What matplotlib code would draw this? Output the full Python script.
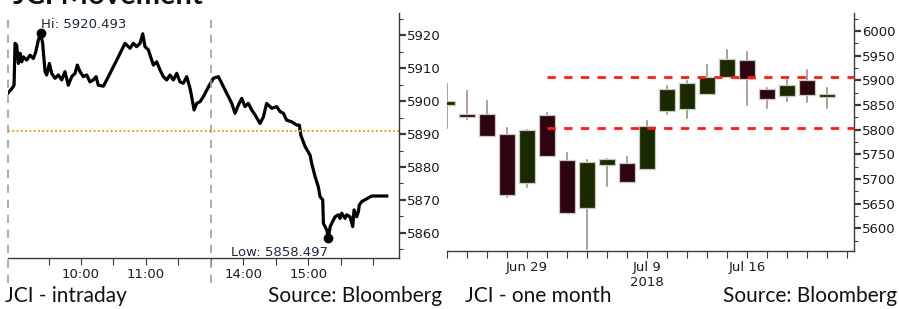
import numpy as np
import matplotlib.pyplot as plt
from matplotlib.patches import Rectangle

# intraday: x = trading minutes after 09:00 (lunch break 12:00-13:30 collapsed)
intra_min = [-7.1, -3.1, -1.8, -0.9, 0.6, 2.2, 3.7, 5.2, 6.8, 9.8, 12.9, 16.0, 18.2, 20.6, 22.8,
             24.6, 26.8, 28.3, 30.8, 32.9, 36.0, 39.1, 42.2, 45.2, 48.3, 51.4, 54.5, 56.6, 59.1,
             62.2, 65.3, 68.3, 71.4, 73.9, 76.0, 80.6, 83.7, 86.8, 94.5, 100.6, 105.3, 108.3,
             111.4, 114.5, 117.0, 119.1, 122.2, 126.8, 129.9, 133.0, 136.0, 139.1, 142.2, 145.3,
             148.4, 151.4, 154.5, 157.6, 160.7, 162.2, 164.4, 166.8, 169.9, 172.9, 176.1, 178.5,
             182.2, 186.8, 189.9, 194.6, 199.2, 202.2, 205.3, 208.4, 211.4, 214.5, 217.6, 220.7,
             225.3, 228.4, 231.4, 236.1, 240.7, 243.8, 246.8, 249.9, 254.6, 259.2, 261.6, 262.9,
             266.9, 271.5, 273.0, 276.1, 279.1, 280.7, 283.2, 283.8, 286.9, 288.4, 290.0, 293.0,
             294.6, 297.6, 299.2, 300.7, 303.8, 305.3, 308.4, 310.9, 312.1, 314.6, 316.1, 317.0,
             319.2, 328.4, 342.3]
intra_val = [5902.5, 5904.1, 5904.8, 5917.5, 5917.0, 5911.4, 5914.5, 5911.9, 5913.4, 5912.4,
             5913.9, 5912.9, 5914.9, 5918.5, 5920.5, 5917.5, 5908.9, 5907.9, 5911.4, 5908.4,
             5906.9, 5907.9, 5906.4, 5908.9, 5904.8, 5907.4, 5908.4, 5910.9, 5908.9, 5907.4,
             5907.9, 5905.8, 5906.4, 5907.4, 5904.8, 5904.5, 5906.4, 5908.4, 5913.4, 5917.5,
             5916.0, 5917.5, 5916.5, 5917.5, 5920.4, 5916.5, 5915.5, 5910.9, 5911.9, 5909.4,
             5907.4, 5906.4, 5907.9, 5906.4, 5908.4, 5905.8, 5905.4, 5907.4, 5903.8, 5901.3,
             5897.3, 5899.3, 5899.8, 5901.3, 5903.3, 5904.8, 5906.9, 5907.4, 5905.4, 5902.3,
             5899.3, 5896.3, 5898.8, 5900.8, 5898.3, 5899.3, 5897.3, 5895.8, 5893.2, 5895.2,
             5899.3, 5897.8, 5898.3, 5896.8, 5896.3, 5894.2, 5893.7, 5892.7, 5892.7, 5889.7,
             5886.2, 5883.6, 5881.1, 5877.1, 5874.0, 5871.0, 5870.0, 5862.9, 5860.9, 5858.5,
             5861.9, 5863.9, 5864.9, 5865.5, 5864.4, 5866.0, 5864.4, 5865.5, 5864.9, 5861.9,
             5867.0, 5864.9, 5866.5, 5868.5, 5869.5, 5871.2, 5871.2]
hi_min, hi_val = 22.8, 5920.493
lo_min, lo_val = 288.4, 5858.497
ref_level = 5891.0
session_breaks = [-7.1, 180]
intra_ticks = [30, 60, 90, 120, 150, 180, 210, 240, 270, 300, 330]
intra_labels = ["", "10:00", "", "11:00", "", "", "14:00", "", "15:00", "", ""]

# one month daily candles
opens = [5850, 5832, 5832, 5792, 5691, 5829, 5738, 5641, 5728, 5733,
         5720, 5838, 5842, 5872, 5907, 5942, 5882, 5868, 5901, 5867]
highs = [5892, 5878, 5859, 5803, 5799, 5833, 5752, 5739, 5740, 5745,
         5818, 5888, 5899, 5931, 5961, 5957, 5884, 5900, 5920, 5884]
lows = [5803, 5822, 5787, 5663, 5683, 5747, 5632, 5559, 5686, 5694,
        5720, 5831, 5823, 5872, 5907, 5849, 5843, 5859, 5857, 5843]
closes = [5859, 5825, 5787, 5668, 5799, 5747, 5632, 5735, 5740, 5694,
          5807, 5882, 5894, 5907, 5944, 5903, 5862, 5890, 5870, 5873]
date_ticks = list(range(21))
date_labels = {4: "Jun 29", 10: "Jul 9\n2018", 15: "Jul 16"}
levels = [5907, 5804]
level_start = 5

fig = plt.figure(figsize=(8.99, 3.09), dpi=100)
tick_font = dict(family="DejaVu Sans", size=9.5)
txt = "#1a1a1a"

# ---- left: intraday
ax1 = fig.add_axes([8/899, 1-258/309, 391/899, 245/309])
ax1.plot(intra_min, intra_val, color="black", lw=2.3, solid_joinstyle="round")
ax1.plot([hi_min, lo_min], [hi_val, lo_val], "o", color="black", ms=6)
ax1.text(hi_min, hi_val + 1.6, "Hi: %.3f" % hi_val, ha="left", va="baseline",
         color="#1f2a3a", **tick_font)
ax1.text(lo_min, 5852.9, "Low: %.3f" % lo_val, ha="right", va="baseline",
         color="#1f2a3a", **tick_font)
ax1.axhline(ref_level, color="#f39c1f", lw=1.4, ls=(0, (1, 1.2)))
for b in session_breaks:
    ax1.axvline(b, ymin=-0.1, ymax=1, color="#a0a0a0", lw=1.2, ls=(0, (5, 4)), clip_on=False)
ax1.set_xlim(-7.4, 353.6)
ax1.set_ylim(5852.4, 5926.7)
ax1.set_yticks([5860, 5870, 5880, 5890, 5900, 5910, 5920])
ax1.set_yticks(np.arange(5855, 5926, 5), minor=True)
ax1.set_xticks(intra_ticks)
ax1.set_xticklabels(intra_labels)

# ---- right: candles
ax2 = fig.add_axes([447/899, 1-251/309, 407/899, 238/309])
green, red = "#1b2900", "#2e0410"
w = 0.83
for i in range(len(opens)):
    o, h, l, c = opens[i], highs[i], lows[i], closes[i]
    up = c >= o
    ax2.plot([i, i], [l, h], color="#8f9886" if up else "#a58c94", lw=1.2, zorder=2)
    ax2.add_patch(Rectangle((i - w/2, min(o, c)), w, abs(c - o), facecolor=green if up else red,
                            edgecolor="#c8c8bc", lw=0.9, zorder=3))
for lv in levels:
    ax2.plot([level_start, 20.35], [lv, lv], color="#ff1a1a", lw=2, ls=(0, (3, 3)), zorder=4,
             clip_on=False)
ax2.set_xlim(0, 20.35)
ax2.set_ylim(5554, 6036.5)
ax2.set_yticks(np.arange(5600, 6001, 50))
ax2.set_yticks(np.arange(5575, 6030, 25), minor=True)
ax2.set_xticks(date_ticks)
ax2.set_xticklabels([date_labels.get(i, "") for i in date_ticks])

for ax in (ax1, ax2):
    for s in ("top", "left"):
        ax.spines[s].set_visible(False)
    for s in ("bottom", "right"):
        ax.spines[s].set_color("#3a3a3a")
        ax.spines[s].set_linewidth(1)
    ax.yaxis.tick_right()
    ax.tick_params(axis="y", which="major", length=5, width=1.6, pad=1, colors="#3a3a3a",
                   labelcolor=txt)
    ax.tick_params(axis="y", which="minor", length=3, width=0.8, colors="#3a3a3a")
    ax.tick_params(axis="x", which="major", length=5, width=0.8, pad=2, colors="#3a3a3a",
                   labelcolor=txt)
    for lab in ax.get_xticklabels() + ax.get_yticklabels():
        lab.set_fontfamily("DejaVu Sans")
        lab.set_fontsize(9.5)

cap = dict(family="Lato", size=15, color="#111111", va="baseline")
fig.text(5/899, 1-302/309, "JCI - intraday", ha="left", **cap)
fig.text(442/899, 1-302/309, "Source: Bloomberg", ha="right", **cap)
fig.text(465/899, 1-302/309, "JCI - one month", ha="left", **cap)
fig.text(897/899, 1-302/309, "Source: Bloomberg", ha="right", **cap)
# title sits mostly above the top edge, as in the source image
fig.text(13/899, 1-3.5/309, "JCI Movement", ha="left", va="baseline", family="Lato",
         weight="bold", size=21, color="#111111")

fig.savefig("out.png", dpi=100)
